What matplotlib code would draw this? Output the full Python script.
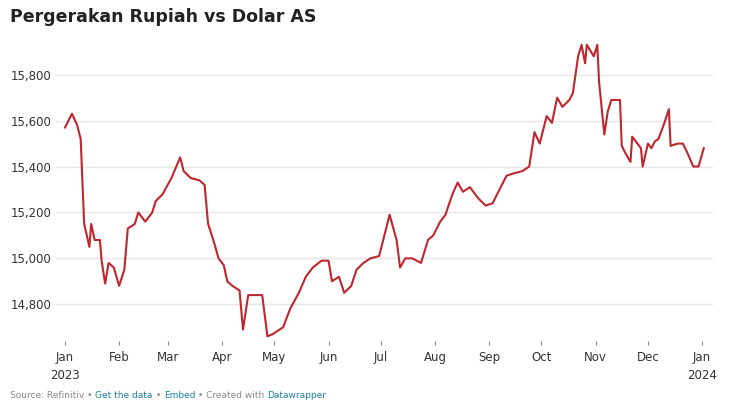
import matplotlib
matplotlib.use("Agg")
import matplotlib.pyplot as plt
import pandas as pd

start = pd.Timestamp("2023-01-01")
days = [0,2,4,7,9,11,14,15,17,20,21,23,25,28,31,34,36,40,42,46,50,52,56,61,66,68,72,77,80,82,85,88,91,93,96,100,102,105,113,116,119,125,129,134,138,142,147,151,153,157,160,164,167,171,175,180,182,186,190,192,195,199,204,208,211,215,218,222,225,228,232,237,241,245,249,253,257,262,266,269,272,276,279,282,285,289,291,294,296,298,299,303,305,306,309,311,313,318,319,321,324,325,327,330,331,334,336,338,340,343,346,347,351,354,356,360,363,366]
values = [15570,15600,15630,15580,15520,15150,15050,15150,15080,15080,14990,14890,14980,14960,14880,14950,15130,15150,15200,15160,15200,15250,15280,15350,15440,15380,15350,15340,15320,15150,15080,15000,14970,14900,14880,14860,14690,14840,14840,14660,14670,14700,14780,14850,14920,14960,14990,14990,14900,14920,14850,14880,14950,14980,15000,15010,15070,15190,15080,14960,15000,15000,14980,15080,15100,15160,15190,15280,15330,15290,15310,15260,15230,15240,15300,15360,15370,15380,15400,15550,15500,15620,15590,15700,15660,15690,15720,15880,15930,15850,15930,15880,15930,15770,15540,15640,15690,15690,15490,15460,15420,15530,15510,15480,15400,15500,15480,15510,15520,15580,15650,15490,15500,15500,15470,15400,15400,15480]
yticks = [14800, 15000, 15200, 15400, 15600, 15800]
month_labels = ["Jan\n2023","Feb","Mar","Apr","May","Jun","Jul","Aug","Sep","Oct","Nov","Dec","Jan\n2024"]
footer = [("Source: Refinitiv • ", "#888888"), ("Get the data", "#1d81a2"), (" • ", "#888888"),
          ("Embed", "#1d81a2"), (" • Created with ", "#888888"), ("Datawrapper", "#1d81a2")]

dates = [start + pd.Timedelta(days=d) for d in days]
mticks = pd.date_range("2023-01-01", "2024-01-01", freq="MS")

fig = plt.figure(figsize=(7.5, 4), dpi=100)
ax = fig.add_axes([0.075, 0.1475, 0.875, 0.7575])
ax.plot(dates, values, color="#c0262d", lw=1.5)
ax.set_ylim(14640, 15960)
ax.set_xlim(pd.Timestamp("2022-12-27"), pd.Timestamp("2024-01-07"))
ax.set_yticks(yticks)
ax.set_yticklabels([f"{v:,}" for v in yticks], ha="left")
ax.tick_params(axis="y", length=0, pad=33, labelsize=8.5, labelcolor="#333333")
ax.set_xticks(mticks)
ax.set_xticklabels(month_labels, fontsize=8.5, color="#333333", linespacing=1.5)
ax.tick_params(axis="x", length=3, color="#888888", pad=4)
ax.grid(axis="y", color="#e6e6e6", lw=1)
for s in ax.spines.values():
    s.set_visible(False)
fig.text(0.013, 0.945, "Pergerakan Rupiah vs Dolar AS", fontsize=12.5, fontweight="semibold", color="#222222")

fig.canvas.draw()
r = fig.canvas.get_renderer()
x = 10
for txt, col in footer:
    t = fig.text(x / 750, 0.005, txt, fontsize=6.5, color=col)
    x += t.get_window_extent(r).width
fig.savefig("out.png", dpi=100, facecolor="white")
